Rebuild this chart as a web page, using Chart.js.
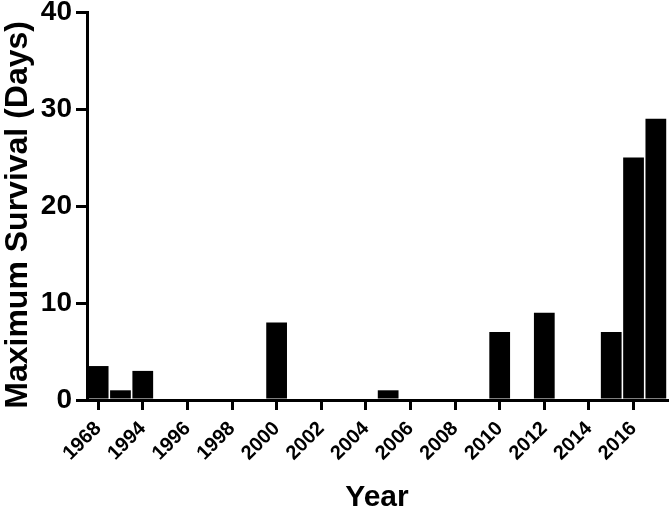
<!DOCTYPE html>
<html>
<head>
<meta charset="utf-8">
<script src="https://cdn.jsdelivr.net/npm/chart.js@4/dist/chart.umd.min.js"></script>
<style>
  html, body { margin: 0; padding: 0; background: #fff; }
  #wrap { width: 672px; height: 513px; }
</style>
</head>
<body>
<div id="wrap"><canvas id="c" width="672" height="513"></canvas></div>
<script>
const categories = ['1968','1993','1994','1995','1996','1997','1998','1999','2000','2001','2002','2003','2004','2005','2006','2007','2008','2009','2010','2011','2012','2013','2014','2015','2016','2017'];
const survivalDays = [3.5, 1, 3, 0, 0, 0, 0, 0, 8, 0, 0, 0, 0, 1, 0, 0, 0, 0, 7, 0, 9, 0, 0, 7, 25, 29];
const yTicks = [0, 10, 20, 30, 40];
const xTitle = 'Year';
const yTitle = 'Maximum Survival (Days)';

const FONT = '"Liberation Sans", Arial, Helvetica, sans-serif';

new Chart(document.getElementById('c'), {
  type: 'bar',
  data: {
    labels: categories,
    datasets: [{
      data: survivalDays,
      backgroundColor: '#000',
      borderWidth: 0,
      barPercentage: 0.93,
      categoryPercentage: 1.0
    }]
  },
  options: {
    responsive: false,
    animation: false,
    layout: { padding: { left: 0, right: 5, top: 12, bottom: 0 } },
    plugins: { legend: { display: false }, tooltip: { enabled: false } },
    scales: {
      x: {
        offset: true,
        grid: {
          offset: false,
          drawOnChartArea: false,
          drawTicks: true,
          tickLength: 10,
          lineWidth: 3,
          color: '#000',
          tickColor: (ctx) => (ctx.index % 2 === 0 ? '#000' : 'rgba(0,0,0,0)')
        },
        border: { display: true, color: '#000', width: 3 },
        ticks: {
          autoSkip: false,
          minRotation: 45,
          maxRotation: 45,
          padding: 7,
          color: '#000',
          font: { family: FONT, size: 20, weight: 'bold' },
          callback: function (value, index) { return index % 2 === 0 ? categories[index] : ''; }
        },
        title: {
          display: true,
          text: xTitle,
          color: '#000',
          font: { family: FONT, size: 30, weight: 'bold', lineHeight: 1 },
          padding: { top: 0, bottom: 0 }
        },
        afterFit: (scale) => { scale.height = 113; scale.paddingLeft = 0; scale.paddingRight = 0; }
      },
      y: {
        min: 0,
        max: 40,
        afterBuildTicks: (scale) => { scale.ticks = yTicks.map(v => ({ value: v })); },
        grid: {
          drawOnChartArea: false,
          drawTicks: true,
          tickLength: 11,
          lineWidth: 3,
          color: '#000',
          tickColor: '#000'
        },
        border: { display: true, color: '#000', width: 3 },
        ticks: {
          padding: 4,
          color: '#000',
          font: { family: FONT, size: 28, weight: 'bold', lineHeight: 1 }
        },
        title: {
          display: true,
          text: yTitle + '  ',
          color: '#000',
          font: { family: FONT, size: 32, weight: 'bold', lineHeight: 1 },
          padding: { top: 2, bottom: 0 }
        },
        afterFit: (scale) => { scale.width = 87; scale.paddingTop = 0; scale.paddingBottom = 0; }
      }
    }
  }
});
</script>
</body>
</html>
